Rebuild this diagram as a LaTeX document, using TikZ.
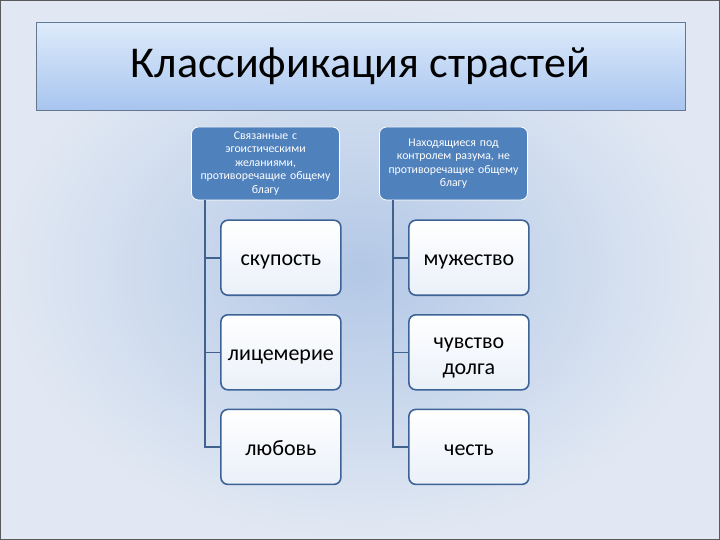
\documentclass[tikz,border=0pt]{standalone}
\usepackage{fontspec}
\setmainfont{Carlito}
\usetikzlibrary{positioning}
\definecolor{headblue}{HTML}{4F81BD}
\definecolor{leafline}{HTML}{3D6396}
\definecolor{leafbottom}{HTML}{EAF0F9}
\definecolor{linkblue}{HTML}{41618F}
\definecolor{bgout}{HTML}{E1E8F3}
\definecolor{bgin}{HTML}{B3C8E6}
\definecolor{titletop}{HTML}{DEEBFB}
\definecolor{titlebot}{HTML}{A8C5EF}

\begin{document}
\begin{tikzpicture}[x=1pt,y=-1pt]
    \tikzset{
        head/.style={draw=white, line width=0.8pt, rounded corners=7pt, fill=headblue,
            text=white, minimum width=148pt, minimum height=73pt, text width=144pt,
            align=center, font=\fontsize{11.8}{13.4}\selectfont, inner sep=2pt},
        leaf/.style={draw=leafline, line width=1.6pt, rounded corners=7pt,
            top color=white, bottom color=leafbottom, minimum width=120pt,
            minimum height=75pt, align=center, font=\fontsize{22}{26}\selectfont,
            execute at begin node={\rule{0pt}{24pt}}, execute at end node=\strut},
        link/.style={draw=linkblue, line width=1.6pt}
    }
    % background
    \shade[inner color=bgin, outer color=bgout] (0,0) rectangle (720,540);
    \draw[gray!70!black, line width=1.2pt] (0.6,0.6) rectangle (719.4,539.4);
    \useasboundingbox (0,0) rectangle (720,540);

    % title
    \node[draw=titlebot!60!black, line width=0.6pt, top color=titletop, bottom color=titlebot,
        minimum width=649pt, minimum height=88pt, font=\fontsize{44}{50}\selectfont]
        (title) at (360.5,66) {Классификация страстей};

    % headers
    \node[head] (lhead) at (265.5,163.5) {Связанные с\\эгоистическими\\желаниями,\\противоречащие общему\\благу};
    \node[head] (rhead) at (453.5,163.5) {Находящиеся под\\контролем разума, не\\противоречащие общему\\благу};

    % left column
    \node[leaf, below right=19pt and 29pt of lhead.south west, anchor=north west] (l1) {скупость};
    \node[leaf, below=18pt of l1] (l2) {лицемерие};
    \node[leaf, below=18pt of l2] (l3) {любовь};

    % right column
    \node[leaf, below right=19pt and 29pt of rhead.south west, anchor=north west] (r1) {мужество};
    \node[leaf, below=18pt of r1, text height=48pt, text depth=4pt] (r2) {чувство\\долга};
    \node[leaf, below=18pt of r2] (r3) {честь};

    \foreach \i in {1,2,3}{
        \draw[link] ([xshift=14pt]lhead.south west) |- (l\i.west);
        \draw[link] ([xshift=14pt]rhead.south west) |- (r\i.west);
    }
\end{tikzpicture}
\end{document}
